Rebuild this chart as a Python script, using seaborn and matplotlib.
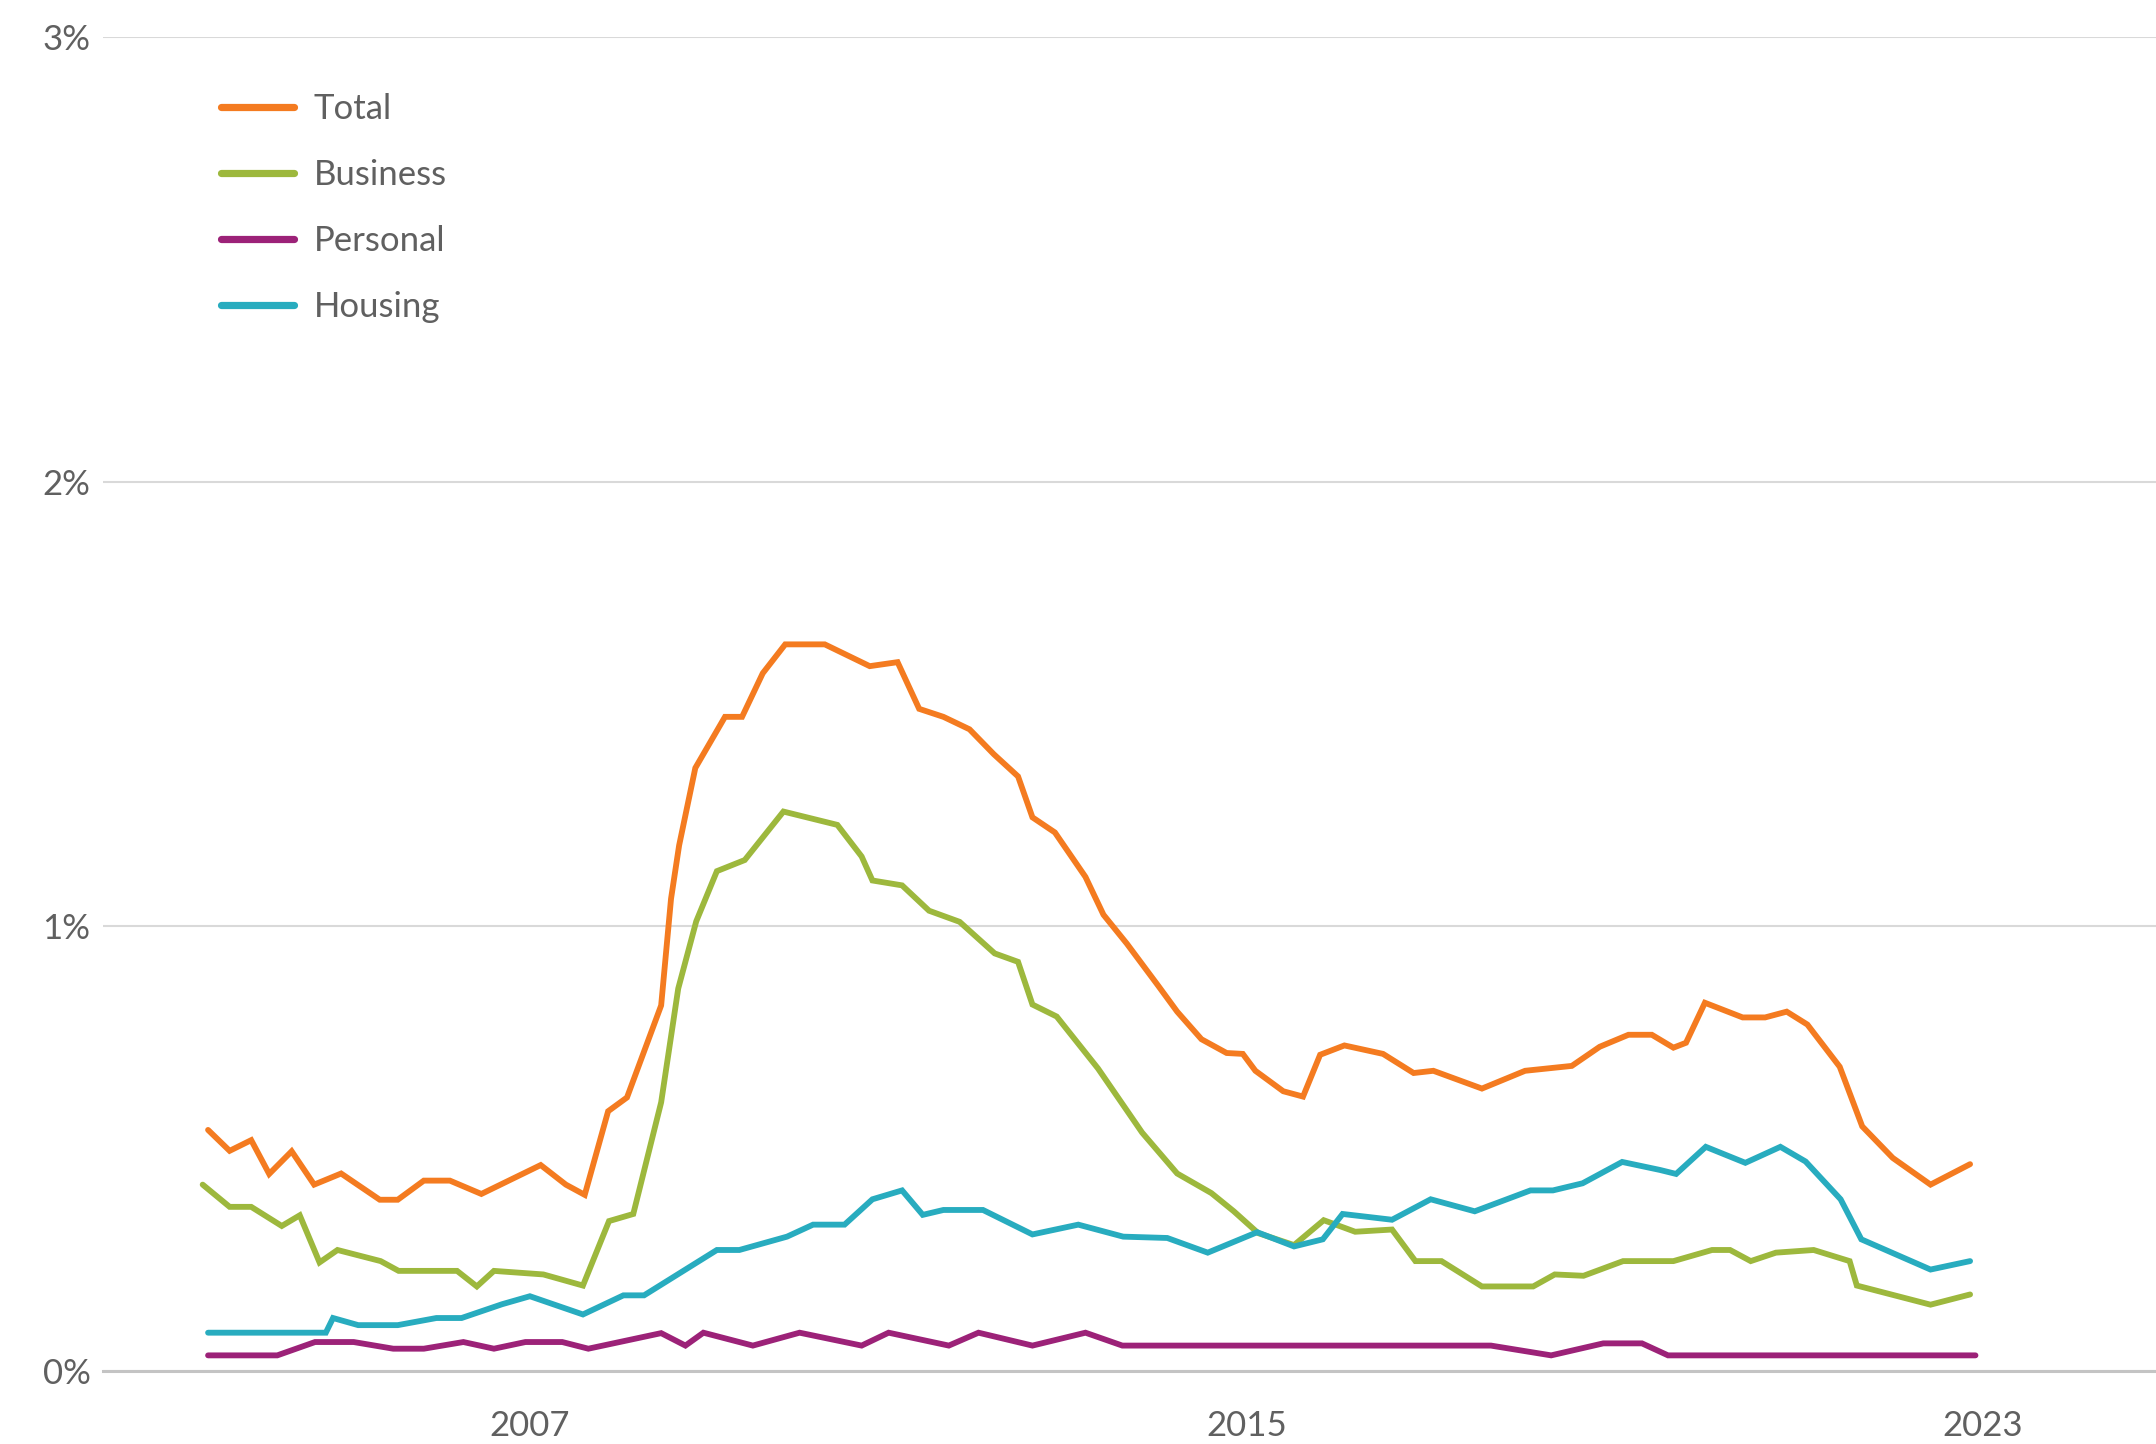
import matplotlib
matplotlib.use("Agg")
import matplotlib.pyplot as plt
import seaborn as sns
import pandas as pd

# Impaired loans as a share of total loans, by segment (decimal years)
total_x = [2003.82, 2004.06, 2004.30, 2004.50, 2004.75, 2005.00, 2005.30, 2005.73, 2005.93,
           2006.22, 2006.51, 2006.86, 2007.52, 2007.80, 2008.01, 2008.27, 2008.48, 2008.86,
           2008.97, 2009.06, 2009.24, 2009.57, 2009.76, 2009.99, 2010.24, 2010.68, 2011.18,
           2011.49, 2011.73, 2012.00, 2012.29, 2012.56, 2012.83, 2012.99, 2013.24, 2013.58,
           2013.78, 2014.04, 2014.39, 2014.60, 2014.87, 2015.15, 2015.33, 2015.47, 2015.78,
           2016.00, 2016.19, 2016.46, 2016.89, 2017.23, 2017.45, 2017.99, 2018.47, 2018.99,
           2019.30, 2019.62, 2019.88, 2020.12, 2020.26, 2020.47, 2020.89, 2021.14, 2021.38,
           2021.61, 2021.97, 2022.22, 2022.56, 2022.98, 2023.42]
total_y = [0.542, 0.495, 0.519, 0.443, 0.494, 0.419, 0.444, 0.385, 0.385,
           0.428, 0.428, 0.398, 0.463, 0.419, 0.396, 0.584, 0.615, 0.822,
           1.062, 1.182, 1.356, 1.471, 1.471, 1.569, 1.634, 1.634, 1.585,
           1.594, 1.489, 1.471, 1.443, 1.387, 1.337, 1.245, 1.211, 1.111,
           1.026, 0.961, 0.866, 0.808, 0.746, 0.715, 0.713, 0.675, 0.629,
           0.617, 0.711, 0.732, 0.713, 0.670, 0.675, 0.635, 0.675, 0.686,
           0.729, 0.756, 0.756, 0.727, 0.738, 0.828, 0.795, 0.795, 0.808,
           0.779, 0.684, 0.550, 0.479, 0.419, 0.465]

business_x = [2003.76, 2004.06, 2004.30, 2004.64, 2004.84, 2005.06, 2005.26, 2005.74, 2005.94,
              2006.59, 2006.81, 2007.00, 2007.55, 2007.99, 2008.28, 2008.55, 2008.86, 2009.05,
              2009.25, 2009.48, 2009.79, 2010.22, 2010.82, 2011.09, 2011.21, 2011.54, 2011.84,
              2012.18, 2012.57, 2012.83, 2012.99, 2013.26, 2013.72, 2014.21, 2014.60, 2014.98,
              2015.23, 2015.50, 2015.90, 2016.23, 2016.58, 2016.99, 2017.25, 2017.54, 2017.99,
              2018.56, 2018.80, 2019.12, 2019.56, 2020.12, 2020.55, 2020.75, 2020.98, 2021.26,
              2021.68, 2022.08, 2022.16, 2022.98, 2023.42]
business_y = [0.419, 0.369, 0.369, 0.326, 0.350, 0.244, 0.272, 0.247, 0.225,
              0.225, 0.190, 0.225, 0.217, 0.192, 0.337, 0.353, 0.604, 0.860,
              1.011, 1.124, 1.149, 1.258, 1.228, 1.157, 1.103, 1.092, 1.035,
              1.010, 0.939, 0.920, 0.824, 0.797, 0.680, 0.536, 0.444, 0.400,
              0.359, 0.310, 0.283, 0.339, 0.313, 0.318, 0.247, 0.247, 0.190,
              0.190, 0.217, 0.214, 0.247, 0.247, 0.272, 0.272, 0.247, 0.266,
              0.272, 0.247, 0.192, 0.149, 0.172]

personal_x = [2003.82, 2004.59, 2005.01, 2005.44, 2005.88, 2006.22, 2006.66, 2007.00, 2007.35,
              2007.76, 2008.05, 2008.86, 2009.13, 2009.33, 2009.88, 2010.40, 2011.09, 2011.39,
              2012.06, 2012.39, 2012.99, 2013.58, 2013.99, 2018.09, 2018.76, 2019.34, 2019.77,
              2020.06, 2023.48]
personal_y = [0.035, 0.035, 0.065, 0.065, 0.050, 0.050, 0.065, 0.050, 0.065,
              0.065, 0.050, 0.085, 0.057, 0.086, 0.057, 0.086, 0.057, 0.086,
              0.057, 0.086, 0.057, 0.086, 0.057, 0.057, 0.035, 0.062, 0.062,
              0.035, 0.035]

housing_x = [2003.82, 2005.13, 2005.21, 2005.49, 2005.93, 2006.36, 2006.64, 2007.09, 2007.40,
             2007.99, 2008.44, 2008.67, 2009.48, 2009.73, 2010.26, 2010.55, 2010.90, 2011.21,
             2011.54, 2011.77, 2012.00, 2012.44, 2012.99, 2013.50, 2014.00, 2014.49, 2014.94,
             2015.49, 2015.90, 2016.22, 2016.44, 2016.99, 2017.42, 2017.91, 2018.53, 2018.78,
             2019.11, 2019.55, 2019.97, 2020.15, 2020.48, 2020.92, 2021.31, 2021.59, 2021.98,
             2022.21, 2022.98, 2023.42]
housing_y = [0.086, 0.086, 0.119, 0.103, 0.103, 0.119, 0.119, 0.150, 0.168,
             0.127, 0.170, 0.170, 0.272, 0.272, 0.302, 0.329, 0.329, 0.386,
             0.406, 0.351, 0.362, 0.362, 0.307, 0.329, 0.302, 0.299, 0.266,
             0.312, 0.280, 0.296, 0.353, 0.340, 0.386, 0.359, 0.406, 0.406,
             0.422, 0.470, 0.452, 0.443, 0.504, 0.468, 0.504, 0.471, 0.386,
             0.296, 0.228, 0.247]

series_names = ["Total", "Business", "Personal", "Housing"]
series_colors = ["#F47B20", "#9DB83D", "#9C2278", "#28ACBF"]

y_ticks = [0, 1, 2, 3]
y_tick_labels = ["0%", "1%", "2%", "3%"]
year_ticks = list(range(2004, 2026))
year_labels = ["2007", "2015", "2023"]
year_label_pos = [2007.40, 2015.37, 2023.56]

frames = []
for name, xs, ys in zip(series_names,
                        [total_x, business_x, personal_x, housing_x],
                        [total_y, business_y, personal_y, housing_y]):
    frames.append(pd.DataFrame({"year": xs, "value": ys, "series": name}))
df = pd.concat(frames, ignore_index=True)

sns.set_style("white")
plt.rcParams["font.family"] = ["Lato", "DejaVu Sans"]
plt.rcParams["font.weight"] = "normal"

text_color = "#606060"
grid_color = "#d9d9d9"
axis_color = "#c4c4c4"

fig = plt.figure(figsize=(10.78, 7.22), dpi=200)
ax = fig.add_axes([0.0478, 0.0506, 0.9522, 0.9238])

sns.lineplot(data=df, x="year", y="value", hue="series", hue_order=series_names,
             palette=series_colors, estimator=None, sort=False, linewidth=2.1,
             ax=ax, legend=True)
for ln in ax.lines:
    ln.set_solid_capstyle("round")
    ln.set_solid_joinstyle("miter")

ax.set_xlim(2002.652, 2025.488)
ax.set_ylim(0, 3)
ax.set_xlabel("")
ax.set_ylabel("")

for side in ["top", "right", "left"]:
    ax.spines[side].set_visible(False)
ax.spines["bottom"].set_color(axis_color)
ax.spines["bottom"].set_linewidth(1.1)

ax.set_yticks(y_ticks)
ax.set_yticklabels(y_tick_labels)
ax.yaxis.grid(True, color=grid_color, linewidth=0.75)
ax.set_axisbelow(True)
ax.tick_params(axis="y", length=0, pad=4.5, labelsize=12.5, labelcolor=text_color)

ax.set_xticks(year_ticks)
ax.set_xticklabels([])
ax.set_xticks(year_label_pos, minor=True)
ax.set_xticklabels(year_labels, minor=True)
ax.tick_params(axis="x", which="major", direction="out", length=8.6, width=0.75,
               color=axis_color)
ax.tick_params(axis="x", which="minor", length=0, pad=14, labelsize=12.5,
               labelcolor=text_color)

handles, labels = ax.get_legend_handles_labels()
leg = ax.legend(handles=handles, labels=labels, loc="upper left",
                bbox_to_anchor=(221 / 2156, 1 - 93 / 1444), bbox_transform=fig.transFigure,
                frameon=False, fontsize=12.5, handlelength=2.1, handletextpad=0.57,
                labelspacing=0.98, borderpad=0, borderaxespad=0)
for line in leg.get_lines():
    line.set_linewidth(2.6)
    line.set_solid_capstyle("round")
for t in leg.get_texts():
    t.set_color(text_color)

fig.savefig("out.png", dpi=200)
